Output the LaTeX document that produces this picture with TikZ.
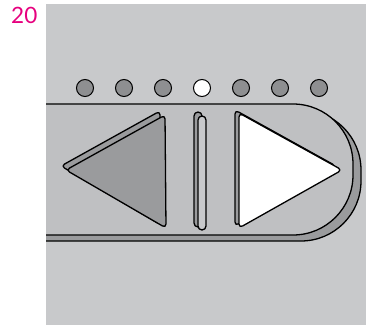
\documentclass[tikz,border=0pt]{standalone}
\usepackage{fontspec}
\newfontfamily\labelfont{Lato}
\definecolor{panel}{HTML}{C8C9CB}
\definecolor{bar}{HTML}{BFC0C2}
\definecolor{shade}{HTML}{9A9B9D}
\definecolor{led}{HTML}{8E8F91}
\definecolor{tag}{HTML}{E6007E}

\tikzset{
  part/.style={draw=black, line width=1.3pt, rounded corners=4pt, line join=round},
  under/.style={part, fill=shade}
}

\begin{document}
\begin{tikzpicture}[x=1pt, y=-1pt]
  \useasboundingbox (0,0) rectangle (371,327);
  \node[anchor=north west, inner sep=0pt, text=tag, font=\labelfont\fontsize{22.5}{22.5}\selectfont] (num) at (11,6.5) {20};

  % panel and bar
  \fill[panel] (46,4) rectangle (366,325);
  \begin{scope}
    \clip (46,4) rectangle (366,325);
    \draw[under, rounded corners=60pt] (20,110) -- (361,110) -- (361,241) -- (20,241);
    \draw[part, fill=bar, rounded corners=60pt] (20,104) -- (353,104) -- (353,235) -- (20,235);
  \end{scope}

  % position lights
  \foreach \x/\c in {85/led, 124/led, 163/led, 202/white, 241/led, 280/led, 319/led}
    \draw[fill=\c, line width=1pt] (\x,88) circle (8.5);

  % back button
  \draw[under] (61,166) -- (160,111) -- (161,225) -- cycle;
  \draw[under] (66,170) -- (165,115) -- (166,228) -- cycle;

  % pause slot
  \draw[under] (194,112) rectangle (202,227);
  \draw[part, fill=panel] (198,116) rectangle (206,230);

  % play button
  \draw[under] (235,110) -- (336,166) -- (235,226) -- cycle;
  \draw[part, fill=white] (239,113) -- (342,170) -- (239,228) -- cycle;
\end{tikzpicture}
\end{document}
